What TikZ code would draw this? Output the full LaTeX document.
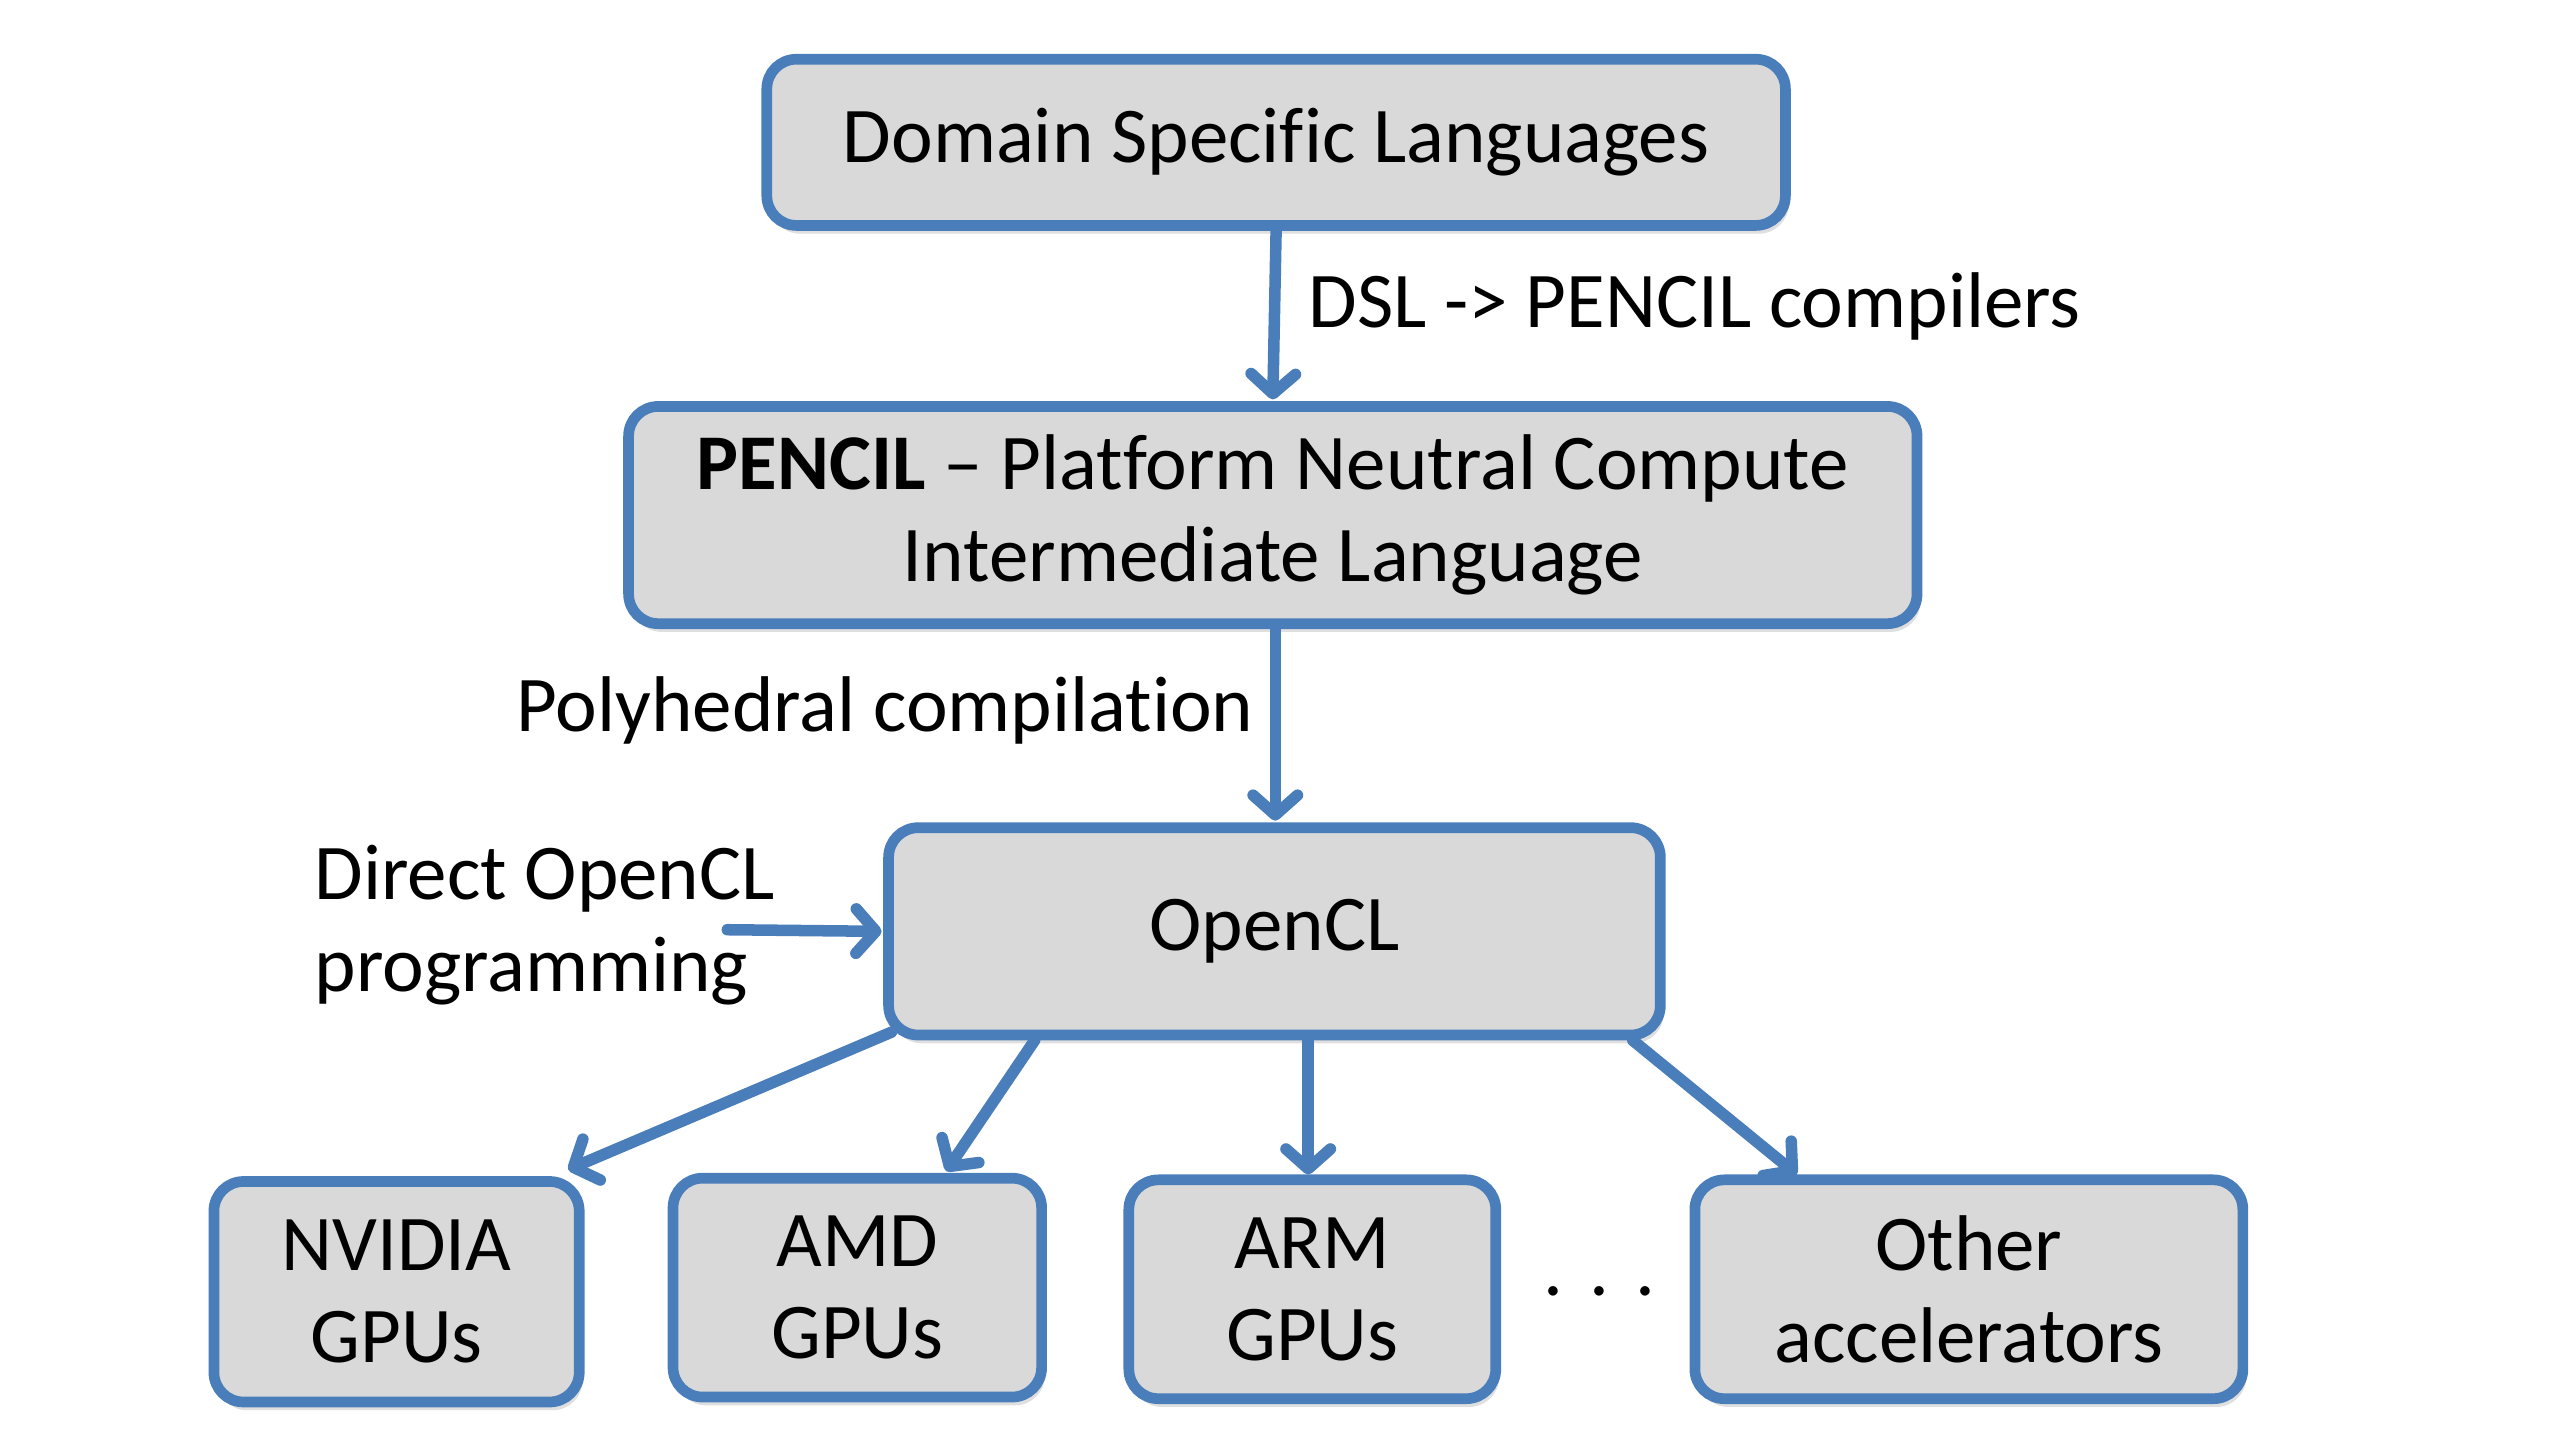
\documentclass[tikz,border=0pt]{standalone}
\usepackage{fontspec}
\setmainfont{Carlito}[RawFeature=-liga]
\usetikzlibrary{arrows.meta,shadows}
\definecolor{bblue}{HTML}{4A7EBB}
\definecolor{bfill}{HTML}{D9D9D9}
\tikzset{conn/.style={draw=bblue,line width=7pt,line cap=round,-{Straight Barb[length=12pt,width=27pt,round]}}}
\begin{document}
\begin{tikzpicture}[x=1pt,y=-1pt,
  box/.style={draw=bblue,line width=6.5pt,fill=bfill,rounded corners=18pt,
    align=center,inner sep=0pt,font=\fontsize{48}{56}\selectfont,
    drop shadow={opacity=0.25,shadow xshift=2pt,shadow yshift=-5pt}},
  lbl/.style={font=\fontsize{48}{56}\selectfont,inner sep=0pt,align=left}]
\useasboundingbox (0,0) rectangle (1560,877.5);
\begin{scope}[xshift=-3pt]
\node[box,minimum width=619pt,minimum height=101pt] (dsl) at (778.5,86.5) {Domain Specific Languages};
\node[box,minimum width=783pt,minimum height=132pt] (pencil) at (776.5,313) {\textbf{PENCIL} -- Platform Neutral Compute\\Intermediate Language};
\node[box,minimum width=469pt,minimum height=126pt] (opencl) at (777.5,566) {OpenCL};
\node[box,minimum width=222pt,minimum height=134pt] (nvidia) at (244,785) {NVIDIA\\GPUs};
\node[box,minimum width=224pt,minimum height=133pt] (amd) at (524,782.5) {AMD\\GPUs};
\node[box,minimum width=223pt,minimum height=133pt] (arm) at (800.5,783.5) {ARM\\GPUs};
\node[box,minimum width=333pt,minimum height=133pt] (other) at (1199.5,783.5) {Other\\accelerators};
\node[lbl,anchor=west] (l1) at (798,186) {DSL -> PENCIL compilers};
\node[lbl,anchor=east] (l2) at (765,432) {Polyhedral compilation};
\node[lbl,anchor=west] (l3) at (194,562) {Direct OpenCL\\programming};
\node[lbl,anchor=center] (dots) at (975,785) {.\,\,.\,\,.};
\coordinate (dstart) at (445,565);
\end{scope}
\draw[conn] (dsl.south) -- ([yshift=1pt]pencil.north);
\draw[conn] ([xshift=1.5pt]pencil.south) -- ([xshift=0.5pt,yshift=1pt]opencl.north);
\draw[conn] (dstart) -- ([xshift=-1pt]opencl.west);
\draw[conn] ([xshift=5pt,yshift=5pt]opencl.south west) -- ([xshift=-10pt,yshift=4pt]nvidia.north east);
\draw[conn] ([xshift=92pt]opencl.south west) -- ([xshift=54pt,yshift=1pt]amd.north);
\draw[conn] ([xshift=20.5pt]opencl.south) -- ([xshift=-2.5pt,yshift=0pt]arm.north);
\draw[conn] ([xshift=-20pt]opencl.south east) -- ([xshift=-104.5pt,yshift=0pt]other.north);
\end{tikzpicture}
\end{document}
